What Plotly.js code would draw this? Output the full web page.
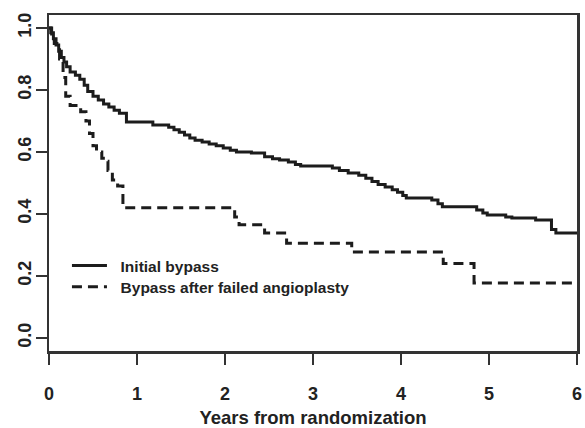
<!DOCTYPE html>
<html>
<head>
<meta charset="utf-8">
<script src="https://cdn.plot.ly/plotly-3.0.1.min.js"></script>
<style>
html,body{margin:0;padding:0;background:#ffffff;}
#chart{width:585px;height:428px;}
</style>
</head>
<body>
<div id="chart"></div>
<script>
// Initial bypass (Kaplan-Meier step curve)
var initTimes = [0, 0.02, 0.05, 0.08, 0.11, 0.14, 0.17, 0.20, 0.24, 0.30, 0.35, 0.40, 0.44, 0.50, 0.56, 0.62, 0.68, 0.74, 0.80, 0.88, 1.18, 1.36, 1.42, 1.48, 1.54, 1.60, 1.66, 1.74, 1.82, 1.90, 1.98, 2.06, 2.13, 2.30, 2.45, 2.54, 2.62, 2.72, 2.80, 2.86, 3.22, 3.30, 3.40, 3.52, 3.60, 3.67, 3.74, 3.82, 3.90, 3.96, 4.02, 4.06, 4.35, 4.42, 4.47, 4.86, 4.93, 4.98, 5.19, 5.26, 5.53, 5.71, 5.76, 6.0];
var initSurv  = [1.0, 0.985, 0.965, 0.945, 0.925, 0.905, 0.89, 0.875, 0.858, 0.848, 0.835, 0.815, 0.795, 0.78, 0.768, 0.755, 0.745, 0.735, 0.725, 0.697, 0.687, 0.68, 0.672, 0.664, 0.655, 0.645, 0.638, 0.632, 0.626, 0.62, 0.613, 0.606, 0.600, 0.597, 0.585, 0.578, 0.574, 0.568, 0.56, 0.555, 0.548, 0.54, 0.532, 0.525, 0.515, 0.505, 0.495, 0.487, 0.478, 0.47, 0.46, 0.452, 0.445, 0.433, 0.423, 0.413, 0.403, 0.397, 0.39, 0.387, 0.381, 0.35, 0.339, 0.339];

// Bypass after failed angioplasty
var angioTimes = [0, 0.03, 0.06, 0.09, 0.12, 0.16, 0.19, 0.24, 0.36, 0.42, 0.46, 0.50, 0.54, 0.60, 0.64, 0.67, 0.72, 0.78, 0.84, 2.11, 2.16, 2.45, 2.70, 3.44, 4.48, 4.83, 5.97];
var angioSurv  = [1.0, 0.97, 0.95, 0.93, 0.90, 0.84, 0.78, 0.75, 0.73, 0.70, 0.66, 0.62, 0.60, 0.58, 0.57, 0.54, 0.51, 0.49, 0.42, 0.39, 0.365, 0.339, 0.306, 0.277, 0.24, 0.177, 0.177];

var seriesNames = ["Initial bypass", "Bypass after failed angioplasty"];
var xTickVals = [0, 1, 2, 3, 4, 5, 6];
var yTickVals = [0.0, 0.2, 0.4, 0.6, 0.8, 1.0];
var xTitle = "Years from randomization";

var fontFam = "'Liberation Sans', Arial, sans-serif";
var ink = "#1c1c1c";
var pad = "\u00a0\u00a0";

var traces = [
  {x: initTimes, y: initSurv, type: "scatter", mode: "lines", name: pad + seriesNames[0],
   legend: "legend", line: {shape: "hv", color: ink, width: 3}},
  {x: angioTimes, y: angioSurv, type: "scatter", mode: "lines", name: pad + seriesNames[1],
   legend: "legend2", line: {shape: "hv", color: ink, width: 3, dash: "10px,6px"}}
];

var legFont = {family: fontFam, size: 15.5, color: "#222", weight: "bold"};

var layout = {
  width: 585, height: 428,
  paper_bgcolor: "#ffffff", plot_bgcolor: "#ffffff",
  margin: {l: 49, r: 8, t: 15, b: 77, pad: 0},
  font: {family: fontFam, color: "#222", size: 18, weight: "bold"},
  showlegend: true,
  legend: {x: 0.034, xanchor: "left", y: 0.253, yanchor: "middle", bgcolor: "rgba(0,0,0,0)",
           font: legFont, itemwidth: 35},
  legend2: {x: 0.034, xanchor: "left", y: 0.190, yanchor: "middle", bgcolor: "rgba(0,0,0,0)",
           font: legFont, itemwidth: 35},
  xaxis: {range: [0, 6], tickvals: xTickVals, showgrid: false, zeroline: false,
          showline: true, mirror: true, linecolor: "#333", linewidth: 2.5,
          ticks: "outside", ticklen: 11, tickwidth: 2, tickcolor: "#333",
          ticklabelstandoff: 14,
          tickfont: {family: fontFam, size: 18, color: "#222", weight: "bold"},
          title: {text: xTitle, standoff: 15, font: {family: fontFam, size: 18.5, color: "#222", weight: "bold"}}},
  yaxis: {range: [-0.042, 1.042], tickvals: yTickVals, tickformat: ".1f", showgrid: false, zeroline: false,
          showline: true, mirror: true, linecolor: "#333", linewidth: 2.5,
          ticks: "outside", ticklen: 11, tickwidth: 2, tickcolor: "#333",
          tickangle: -90, ticklabelstandoff: -3,
          tickfont: {family: fontFam, size: 18, color: "#222", weight: "bold"}}
};

Plotly.newPlot("chart", traces, layout, {displayModeBar: false, staticPlot: true});
</script>
</body>
</html>
